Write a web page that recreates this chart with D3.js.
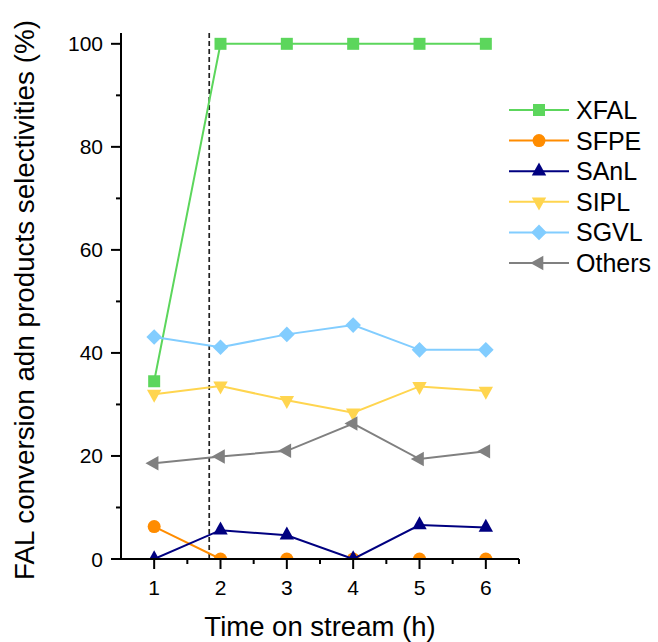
<!DOCTYPE html>
<html>
<head>
<meta charset="utf-8">
<script src="https://cdn.jsdelivr.net/npm/d3@7"></script>
<style>
html,body{margin:0;padding:0;background:#fff;}
svg{display:block;font-family:"Liberation Sans",Arial,sans-serif;}
</style>
</head>
<body>
<svg id="chart" width="658" height="642"></svg>
<script>
// ---- data ----
const times = [1, 2, 3, 4, 5, 6];
const seriesNames = ["XFAL", "SFPE", "SAnL", "SIPL", "SGVL", "Others"];
const XFAL   = [34.5, 100, 100, 100, 100, 100];
const SFPE   = [6.3, 0, 0, 0, 0, 0];
const SAnL   = [0, 5.6, 4.6, 0, 6.6, 6.1];
const SIPL   = [32.0, 33.6, 30.8, 28.4, 33.5, 32.6];
const SGVL   = [43.1, 41.1, 43.6, 45.4, 40.6, 40.6];
const Others = [18.6, 19.9, 21.0, 26.3, 19.4, 20.9];
const xTicks = [1, 2, 3, 4, 5, 6];
const yTicks = [0, 20, 40, 60, 80, 100];
const dashedX = 1.83;

const colors = ["#5cd65c", "#ff8c00", "#000080", "#ffd54f", "#82cdff", "#808080"];
const shapes = ["square", "circle", "triUp", "triDown", "diamond", "triLeft"];
const values = [XFAL, SFPE, SAnL, SIPL, SGVL, Others];

// ---- layout ----
const svg = d3.select("#chart");
const x = d3.scaleLinear().domain([0.5, 6.5]).range([121, 519]);
const y = d3.scaleLinear().domain([0, 102.1]).range([559, 33]);

function markerPath(shape) {
  switch (shape) {
    case "square": return "M-6,-6H6V6H-6Z";
    case "circle": return "M6.5,0A6.5,6.5 0 1,1 -6.5,0A6.5,6.5 0 1,1 6.5,0Z";
    case "triUp": return "M0,-8.7L7.2,4.3L-7.2,4.3Z";
    case "triDown": return "M0,8.7L7.2,-4.3L-7.2,-4.3Z";
    case "diamond": return "M0,-7.8L7.8,0L0,7.8L-7.8,0Z";
    case "triLeft": return "M-8.7,0L4.3,-7.2L4.3,7.2Z";
  }
}

svg.append("defs").append("clipPath").attr("id", "plotclip")
  .append("rect").attr("x", 121).attr("y", 20).attr("width", 420).attr("height", 539);

// dashed line
svg.append("line")
  .attr("x1", x(dashedX)).attr("x2", x(dashedX))
  .attr("y1", y(102.1)).attr("y2", y(0))
  .attr("stroke", "#222").attr("stroke-width", 1.7)
  .attr("stroke-dasharray", "5,3");

const plot = svg.append("g").attr("clip-path", "url(#plotclip)");
const line = d3.line().x((d, i) => x(times[i])).y(d => y(d));

values.forEach((vals, si) => {
  const g = plot.append("g");
  g.append("path").attr("d", line(vals))
    .attr("fill", "none").attr("stroke", colors[si]).attr("stroke-width", 2);
  g.selectAll("path.m").data(vals).enter().append("path")
    .attr("class", "m")
    .attr("d", markerPath(shapes[si]))
    .attr("transform", (d, i) => `translate(${x(times[i])},${y(d)})`)
    .attr("fill", colors[si]);
});

// axes
const tickFont = 21;
const xAxis = svg.append("g").attr("transform", `translate(0,${y(0)})`);
xAxis.append("line").attr("x1", 121).attr("x2", 519).attr("stroke", "#000").attr("stroke-width", 2);
xTicks.forEach(t => {
  xAxis.append("line").attr("x1", x(t)).attr("x2", x(t)).attr("y1", 0).attr("y2", 10)
    .attr("stroke", "#000").attr("stroke-width", 2);
  xAxis.append("text").attr("x", x(t)).attr("y", 36).attr("text-anchor", "middle")
    .attr("font-size", tickFont).text(t);
});
d3.range(1.5, 6.6, 1).forEach(t => {
  xAxis.append("line").attr("x1", x(t)).attr("x2", x(t)).attr("y1", 0).attr("y2", 5)
    .attr("stroke", "#000").attr("stroke-width", 2);
});

const yAxis = svg.append("g").attr("transform", `translate(121,0)`);
yAxis.append("line").attr("y1", y(0)).attr("y2", y(102.1)).attr("stroke", "#000").attr("stroke-width", 2);
yTicks.forEach(t => {
  yAxis.append("line").attr("x1", 0).attr("x2", -10).attr("y1", y(t)).attr("y2", y(t))
    .attr("stroke", "#000").attr("stroke-width", 2);
  yAxis.append("text").attr("x", -18).attr("y", y(t) + tickFont * 0.358).attr("text-anchor", "end")
    .attr("font-size", tickFont).text(t);
});
d3.range(10, 100, 20).forEach(t => {
  yAxis.append("line").attr("x1", 0).attr("x2", -5).attr("y1", y(t)).attr("y2", y(t))
    .attr("stroke", "#000").attr("stroke-width", 2);
});

// axis titles
svg.append("text").attr("x", 320).attr("y", 636).attr("text-anchor", "middle")
  .attr("font-size", 27.5).text("Time on stream (h)");
svg.append("text").attr("transform", "translate(34,300) rotate(-90)").attr("text-anchor", "middle")
  .attr("font-size", 27.8).text("FAL conversion adn products selectivities (%)");

// legend
const legFont = 25;
seriesNames.forEach((name, si) => {
  const ly = 110 + si * 30.6;
  const g = svg.append("g");
  g.append("line").attr("x1", 509).attr("x2", 569).attr("y1", ly).attr("y2", ly)
    .attr("stroke", colors[si]).attr("stroke-width", 2);
  g.append("path").attr("d", markerPath(shapes[si])).attr("transform", `translate(539,${ly})`)
    .attr("fill", colors[si]);
  g.append("text").attr("x", 576).attr("y", ly + legFont * 0.358).attr("font-size", legFont).text(name);
});
</script>
</body>
</html>
